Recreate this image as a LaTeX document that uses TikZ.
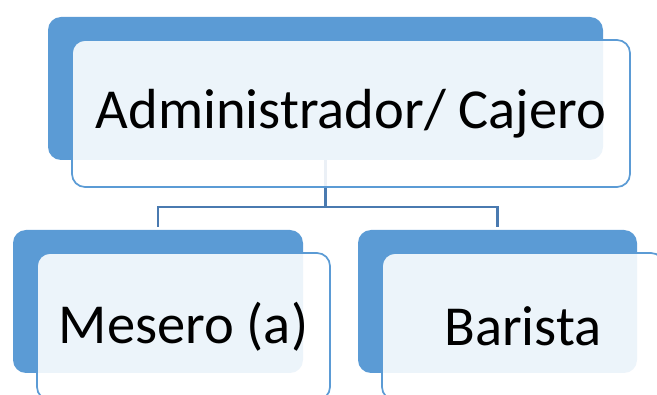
\documentclass[tikz,border=0pt]{standalone}
\usepackage{fontspec}
\setmainfont{Carlito}
\definecolor{backblue}{HTML}{5B9BD5}
\definecolor{frontline}{HTML}{5B9BD5}
\definecolor{connblue}{HTML}{4A7AB0}
\begin{document}
\begin{tikzpicture}[x=1pt,y=-1pt,
  backbox/.style={draw=none,fill=backblue,rounded corners=13pt,inner sep=0pt,minimum height=143pt},
  frontbox/.style={draw=frontline,line width=1.7pt,fill=white,fill opacity=0.89,draw opacity=1,text opacity=1,rounded corners=13pt,inner sep=0pt,minimum height=147pt,font=\fontsize{56.5}{64}\selectfont},
  conn/.style={draw=connblue,line width=2.2pt}]
\useasboundingbox (0,0) rectangle (657,395);
\node[backbox,minimum width=555pt] (tb) at (325.5,88.5) {};
\node[backbox,minimum width=290pt] (lb) at (158,301.5) {};
\node[backbox,minimum width=279pt] (rb) at (497.5,301.5) {};
\draw[conn] (tb.south) -- ++(0,47) coordinate (j);
\draw[conn,shorten >=3pt] (j) -| (lb.north);
\draw[conn,shorten >=3pt] (j) -| (rb.north);
\node[frontbox,minimum width=558pt] (tf) at (351,113.5) {Administrador/ Cajero};
\node[frontbox,minimum width=293pt] (lf) at (183.5,326.5) {Mesero (a)};
\node[frontbox,minimum width=282pt] (rf) at (523,326.5) {Barista};
\end{tikzpicture}
\end{document}
